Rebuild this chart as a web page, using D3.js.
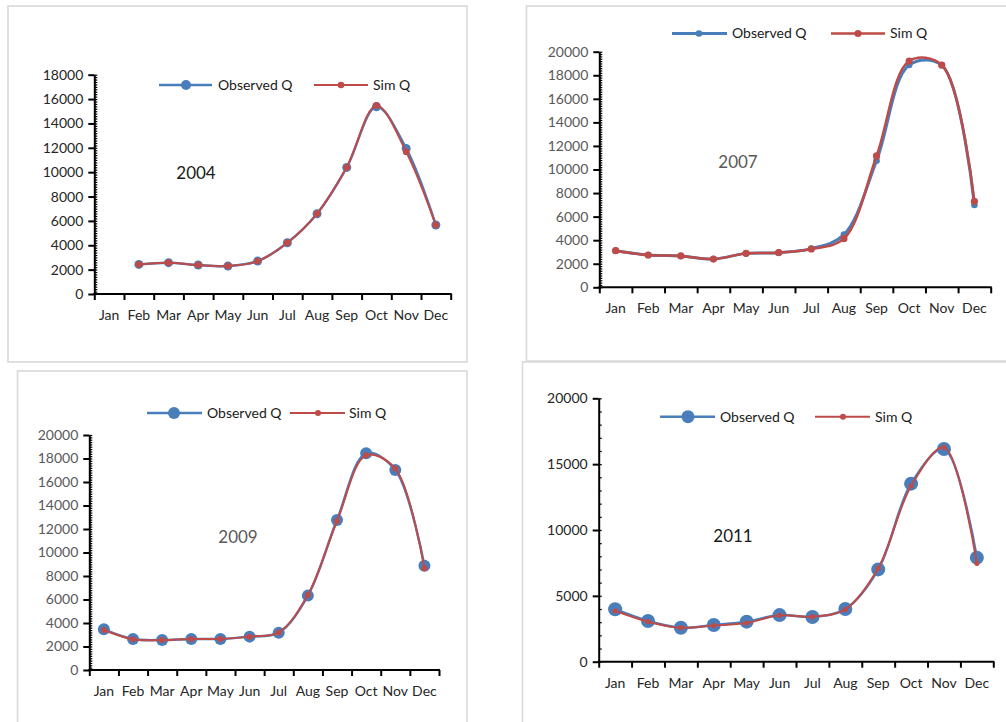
<!DOCTYPE html>
<html><head><meta charset="utf-8">
<script src="https://cdn.jsdelivr.net/npm/d3@7"></script>
<style>
body{margin:0;background:#fff;}
svg{display:block;font-family:Lato,"Open Sans",sans-serif;}
</style></head>
<body>
<svg id="c" width="1006" height="722"></svg>
<script>
// ---------- data ----------
const months = ["Jan","Feb","Mar","Apr","May","Jun","Jul","Aug","Sep","Oct","Nov","Dec"];
const years = ["2004","2007","2009","2011"];
const seriesNames = ["Observed Q","Sim Q"];

const obs2004 = [null,2430,2570,2380,2300,2700,4210,6590,10390,15370,11950,5660];
const sim2004 = [null,2430,2570,2380,2300,2700,4210,6600,10400,15480,11680,5660];
const obs2007 = [3110,2740,2660,2400,2880,2940,3280,4470,10750,18870,18850,6990];
const sim2007 = [3110,2740,2660,2400,2880,2940,3250,4130,11150,19210,18870,7300];
const obs2009 = [3460,2640,2550,2640,2640,2840,3180,6330,12770,18440,17020,8880];
const sim2009 = [3400,2610,2550,2640,2640,2840,3200,6380,12680,18270,17140,8650];
const obs2011 = [3980,3090,2580,2790,3040,3540,3390,4000,7010,13520,16150,7900];
const sim2011 = [3870,3040,2580,2740,2940,3520,3420,3970,7090,13340,16280,7470];

const yTicks18k = [0,2000,4000,6000,8000,10000,12000,14000,16000,18000];
const yTicks20k = [0,2000,4000,6000,8000,10000,12000,14000,16000,18000,20000];
const yTicks20kCoarse = [0,5000,10000,15000,20000];

// ---------- layout ----------
const BLUE = "#4a7ebb", RED = "#be4b48";
const panels = [
  {year:years[0], obs:obs2004, sim:sim2004, yMax:18000, ticks:yTicks18k, minor:200,
   frame:[8,6,467,362], x0:94.3, x1:450.7, y0:294, yTop:74.7,
   labelColor:"#262626", yearColor:"#1a1a1a", yearPos:[196,173],
   rObs:4.5, rSim:3.4, wObs:2.5, wSim:2,
   leg:{y:85, b:[159,212,186,218], r:[314,368,341,373], rObs:5, rSim:3.3}},
  {year:years[1], obs:obs2007, sim:sim2007, yMax:20000, ticks:yTicks20k, minor:200,
   frame:[526.5,6,1012,361], x0:599.3, x1:990.7, y0:287.3, yTop:51.7,
   labelColor:"#595959", yearColor:"#595959", yearPos:[738,162],
   rObs:3.3, rSim:3.6, wObs:3, wSim:2.5,
   leg:{y:33.5, b:[672,727,699,732], r:[831,885,858,890], rObs:3.3, rSim:3.6}},
  {year:years[2], obs:obs2009, sim:sim2009, yMax:20000, ticks:yTicks20k, minor:200,
   frame:[17.5,371,467,730], x0:89.3, x1:439, y0:670, yTop:435,
   labelColor:"#595959", yearColor:"#595959", yearPos:[238,537],
   rObs:6, rSim:3, wObs:2.5, wSim:2,
   leg:{y:413, b:[147,202,174,207], r:[290,345,318,349], rObs:6, rSim:3}},
  {year:years[3], obs:obs2011, sim:sim2011, yMax:20000, ticks:yTicks20kCoarse, minor:1000,
   frame:[522.5,362,1012,730], x0:598.7, x1:993.3, y0:661.7, yTop:398.3,
   labelColor:"#262626", yearColor:"#1a1a1a", yearPos:[733,536],
   rObs:7, rSim:2.6, wObs:2.5, wSim:2,
   leg:{y:416.7, b:[660,715,688,720], r:[815,870,843,875], rObs:6.5, rSim:3}}
];

const svg = d3.select("#c");

panels.forEach(p => {
  const g = svg.append("g");
  const [fx0,fy0,fx1,fy1] = p.frame;
  g.append("rect").attr("x",fx0).attr("y",fy0).attr("width",fx1-fx0).attr("height",fy1-fy0)
    .attr("fill","#fff").attr("stroke","#d9d9d9").attr("stroke-width",1.6);

  const x = d3.scaleBand().domain(months).range([p.x0,p.x1]);
  const xb = d3.scaleLinear().domain([0,12]).range([p.x0,p.x1]);
  const y = d3.scaleLinear().domain([0,p.yMax]).range([p.y0,p.yTop]);

  // minor y ticks (inside)
  const minorVals = d3.range(0,p.yMax+1,p.minor);
  g.append("g").attr("transform",`translate(${p.x0},0)`)
    .call(d3.axisRight(y).tickValues(minorVals).tickSize(3).tickFormat(""))
    .call(a=>{a.select(".domain").remove(); a.selectAll("line").attr("stroke","#000").attr("stroke-width",1.2);});

  // major y axis
  const ya = g.append("g").attr("transform",`translate(${p.x0},0)`)
    .call(d3.axisLeft(y).tickValues(p.ticks).tickSize(6).tickSizeOuter(0).tickPadding(5).tickFormat(d3.format("d")));
  ya.select(".domain").attr("stroke","#000").attr("stroke-width",2);
  ya.selectAll(".tick line").attr("stroke","#000").attr("stroke-width",2);
  ya.selectAll("text").attr("fill",p.labelColor).style("font-size","14px").style("font-family","Lato,'Open Sans',sans-serif");

  // x axis boundary ticks
  const xa = g.append("g").attr("transform",`translate(0,${p.y0})`)
    .call(d3.axisBottom(xb).tickValues(d3.range(0,13)).tickSize(6).tickSizeOuter(0).tickFormat(""));
  xa.select(".domain").attr("stroke","#000").attr("stroke-width",2).attr("d",`M${p.x0-1},0H${p.x1+1}`);
  xa.selectAll(".tick line").attr("stroke","#000").attr("stroke-width",2);

  // x labels
  const xl = g.append("g").attr("transform",`translate(0,${p.y0})`)
    .call(d3.axisBottom(x).tickSize(0).tickPadding(16));
  xl.select(".domain").remove();
  xl.selectAll("text").attr("fill","#262626").style("font-size","14px").style("font-family","Lato,'Open Sans',sans-serif");

  const line = d3.line().defined(d=>d!=null)
    .x((d,i)=>x(months[i])+x.bandwidth()/2).y(d=>y(d)).curve(d3.curveCatmullRom.alpha(0.5));
  const pts = arr => arr.map((v,i)=>({v,i})).filter(d=>d.v!=null);

  g.append("path").datum(p.obs).attr("d",line).attr("fill","none").attr("stroke",BLUE).attr("stroke-width",p.wObs);
  g.selectAll(null).data(pts(p.obs)).join("circle")
    .attr("cx",d=>x(months[d.i])+x.bandwidth()/2).attr("cy",d=>y(d.v)).attr("r",p.rObs).attr("fill",BLUE);
  g.append("path").datum(p.sim).attr("d",line).attr("fill","none").attr("stroke",RED).attr("stroke-width",p.wSim);
  g.selectAll(null).data(pts(p.sim)).join("circle")
    .attr("cx",d=>x(months[d.i])+x.bandwidth()/2).attr("cy",d=>y(d.v)).attr("r",p.rSim).attr("fill",RED);

  // legend
  const L = p.leg;
  const lg = g.append("g");
  lg.append("line").attr("x1",L.b[0]).attr("x2",L.b[1]).attr("y1",L.y).attr("y2",L.y).attr("stroke",BLUE).attr("stroke-width",p.wObs);
  lg.append("circle").attr("cx",L.b[2]).attr("cy",L.y).attr("r",L.rObs).attr("fill",BLUE);
  lg.append("text").attr("x",L.b[3]).attr("y",L.y).attr("dy","0.35em").text(seriesNames[0])
    .attr("fill","#1a1a1a").style("font-size","14px");
  lg.append("line").attr("x1",L.r[0]).attr("x2",L.r[1]).attr("y1",L.y).attr("y2",L.y).attr("stroke",RED).attr("stroke-width",p.wSim);
  lg.append("circle").attr("cx",L.r[2]).attr("cy",L.y).attr("r",L.rSim).attr("fill",RED);
  lg.append("text").attr("x",L.r[3]).attr("y",L.y).attr("dy","0.35em").text(seriesNames[1])
    .attr("fill","#1a1a1a").style("font-size","14px");

  g.append("text").attr("x",p.yearPos[0]).attr("y",p.yearPos[1]).attr("dy","0.35em")
    .attr("text-anchor","middle").attr("fill",p.yearColor).style("font-size","17px").text(p.year);
});
</script>
</body></html>
